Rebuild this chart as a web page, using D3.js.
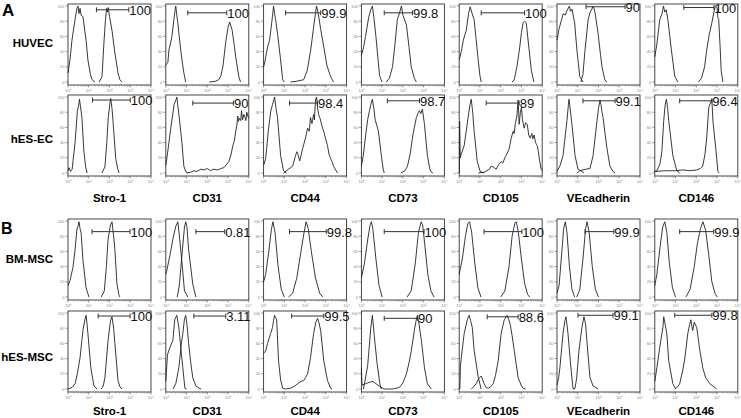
<!DOCTYPE html>
<html><head><meta charset="utf-8">
<script src="https://cdn.jsdelivr.net/npm/d3@7"></script>
<style>html,body{margin:0;padding:0;background:#fff;overflow:hidden;}svg{display:block;}</style>
</head><body>
<script>
// ---------- data ----------
const markers = ["Stro-1","CD31","CD44","CD73","CD105","VEcadherin","CD146"];
const cellTypes = ["HUVEC","hES-EC","BM-MSC","hES-MSC"];
const panelLetters = ["A","B"];
const xTickLabels = ["10\u2070","10\u00b9","10\u00b2","10\u00b3","10\u2074"];
const yTickValues = [0,20,40,60,80,100];

const gatePct = [
  ["100","100","99.9","99.8","100","90","100"],
  ["100","90","98.4","98.7","89","99.1","96.4"],
  ["100","0.81","99.8","100","100","99.9","99.9"],
  ["100","3.11","99.5","90","88.6","99.1","99.8"]
];
const gateFrom = [
  [1.37,1.06,1.06,1.10,1.06,1.40,1.40],
  [1.18,1.30,1.25,1.25,1.30,1.25,1.20],
  [1.16,1.45,1.25,1.10,1.20,1.35,1.20],
  [1.45,1.35,1.35,1.10,1.35,1.01,0.96]
];
const gateTo = [
  [2.93,2.94,2.75,2.46,3.15,3.28,2.85],
  [3.00,3.26,2.60,2.80,2.89,2.80,2.75],
  [2.99,2.84,3.02,3.02,3.02,2.74,2.84],
  [2.99,2.89,2.90,2.70,2.84,2.70,2.75]
];
const gateLevel = [
  [95,91,91,91,91,99,98],
  [96,92,92,95,92,95,95],
  [86,86,86,86,86,86,86],
  [96,96,96,93,95,97,97]
];

// curves: [log10 fluorescence (decades), % of max]
const isoHUVEC = [
  [[0,12],[0.1,30],[0.19,55],[0.34,82],[0.43,97],[0.48,100],[0.53,90],[0.58,97],[0.63,88],[0.72,86],[0.87,55],[0.96,29],[1.08,10],[1.16,3],[1.3,0]],
  [[0,22],[0.1,26],[0.15,42],[0.29,59],[0.39,82],[0.45,95],[0.48,100],[0.53,88],[0.58,78],[0.63,64],[0.72,42],[0.8,25],[0.87,12],[0.96,0]],
  [[0,20],[0.05,25],[0.19,46],[0.29,55],[0.39,78],[0.45,92],[0.48,100],[0.53,90],[0.58,82],[0.67,64],[0.82,29],[0.92,3],[1.0,0]],
  [[0,35],[0.1,45],[0.2,60],[0.35,85],[0.45,95],[0.53,100],[0.6,85],[0.7,60],[0.8,30],[0.88,8],[0.95,3],[1.0,0]],
  [[0,29],[0.1,40],[0.2,55],[0.34,68],[0.45,90],[0.53,99],[0.6,92],[0.72,82],[0.8,60],[0.9,33],[1.0,8],[1.06,0]],
  [[0,55],[0.1,70],[0.2,80],[0.3,90],[0.4,88],[0.5,95],[0.6,100],[0.65,93],[0.72,96],[0.85,78],[0.96,42],[1.1,7],[1.25,0]],
  [[0,33],[0.1,50],[0.24,82],[0.35,90],[0.42,100],[0.48,92],[0.55,95],[0.63,82],[0.8,42],[0.96,8],[1.1,0]]
];
const stainHUVEC = [
  [[1.5,0],[1.64,7],[1.73,51],[1.8,80],[1.86,97],[1.9,92],[1.94,98],[2.0,86],[2.12,68],[2.26,38],[2.41,12],[2.5,3],[2.6,0]],
  [[2.1,0],[2.4,1],[2.55,3],[2.65,8],[2.75,20],[2.9,55],[3.0,72],[3.08,79],[3.2,68],[3.3,48],[3.37,33],[3.52,7],[3.6,0]],
  [[1.3,0],[1.6,1],[1.93,3],[2.1,15],[2.27,42],[2.4,70],[2.5,90],[2.55,100],[2.62,92],[2.75,70],[2.9,46],[3.05,22],[3.23,7],[3.37,0]],
  [[1.2,0],[1.35,5],[1.5,20],[1.62,50],[1.73,82],[1.85,92],[1.93,100],[2.0,88],[2.17,75],[2.3,45],[2.4,20],[2.55,5],[2.65,0]],
  [[2.55,0],[2.65,3],[2.78,20],[2.9,42],[3.0,65],[3.08,78],[3.15,80],[3.23,78],[3.3,60],[3.37,42],[3.48,15],[3.6,0]],
  [[1.15,0],[1.25,10],[1.35,42],[1.5,82],[1.6,92],[1.7,97],[1.75,100],[1.83,92],[1.98,64],[2.1,35],[2.17,20],[2.3,3],[2.4,0]],
  [[2.1,0],[2.25,5],[2.4,20],[2.5,42],[2.62,62],[2.75,78],[2.85,92],[2.92,100],[3.0,98],[3.04,85],[3.08,82],[3.15,45],[3.2,15],[3.28,0]]
];
const isoHESEC = [
  [[0,3],[0.05,7],[0.12,2],[0.2,5],[0.34,40],[0.45,81],[0.52,90],[0.55,97],[0.6,88],[0.67,73],[0.77,27],[0.85,8],[0.92,0]],
  [[0,10],[0.05,19],[0.15,40],[0.24,59],[0.4,90],[0.5,97],[0.53,100],[0.63,77],[0.77,42],[0.87,9],[0.96,2],[1.06,0]],
  [[0,10],[0.1,19],[0.24,59],[0.35,82],[0.43,90],[0.5,97],[0.53,100],[0.6,85],[0.67,73],[0.82,23],[0.96,3],[1.1,0]],
  [[0,9],[0.1,25],[0.19,46],[0.3,70],[0.39,82],[0.47,92],[0.53,97],[0.6,85],[0.67,69],[0.75,62],[0.82,55],[0.96,23],[1.05,5],[1.1,0]],
  [[0.01,0],[0.02,68],[0.05,20],[0.1,25],[0.24,36],[0.43,73],[0.52,90],[0.58,97],[0.65,80],[0.72,55],[0.87,15],[1.01,2],[1.2,0]],
  [[0,2],[0.15,10],[0.29,23],[0.4,50],[0.48,69],[0.55,90],[0.58,97],[0.62,88],[0.72,64],[0.87,23],[1.01,5],[1.2,2],[1.3,0]],
  [[0,2],[0.1,3],[0.25,12],[0.34,28],[0.43,69],[0.5,90],[0.56,97],[0.62,85],[0.67,69],[0.87,23],[1.06,3],[1.2,0]]
];
const stainHESEC = [
  [[1.63,0],[1.78,8],[1.87,40],[1.94,73],[2.02,92],[2.06,98],[2.12,85],[2.17,68],[2.3,19],[2.4,5],[2.46,0]],
  [[1.0,0],[1.2,1],[1.35,3],[1.5,2],[1.69,5],[1.85,4],[2.0,6],[2.15,3],[2.3,5],[2.5,4],[2.65,6],[2.8,7],[2.95,12],[3.04,15],[3.15,25],[3.23,36],[3.3,42],[3.37,55],[3.42,62],[3.47,75],[3.5,68],[3.55,72],[3.61,69],[3.65,82],[3.7,70],[3.76,77],[3.82,73],[3.86,69],[3.9,80],[3.95,75],[4.0,72]],
  [[0.96,0],[1.2,5],[1.4,9],[1.54,23],[1.6,28],[1.64,26],[1.74,16],[1.82,25],[1.88,32],[2.02,46],[2.12,59],[2.2,55],[2.26,73],[2.33,65],[2.36,69],[2.41,77],[2.45,70],[2.5,96],[2.55,100],[2.6,86],[2.65,77],[2.72,72],[2.84,59],[2.9,55],[2.94,50],[3.08,36],[3.15,25],[3.23,19],[3.3,15],[3.37,9],[3.56,0]],
  [[1.9,0],[2.1,3],[2.22,9],[2.35,25],[2.46,46],[2.55,60],[2.65,73],[2.75,80],[2.8,82],[2.86,78],[2.94,84],[3.04,64],[3.18,23],[3.3,5],[3.37,1],[3.45,0]],
  [[0.92,0],[1.2,1],[1.45,5],[1.55,9],[1.64,8],[1.78,5],[1.9,11],[2.02,15],[2.1,13],[2.2,20],[2.26,23],[2.35,28],[2.41,32],[2.5,45],[2.6,55],[2.65,52],[2.7,64],[2.78,75],[2.84,96],[2.89,64],[2.95,80],[3.0,86],[3.05,70],[3.13,59],[3.2,66],[3.28,64],[3.35,50],[3.42,46],[3.5,52],[3.55,45],[3.61,50],[3.68,40],[3.76,36],[3.82,28],[3.86,19],[3.95,5],[4.0,3]],
  [[0.96,0],[1.1,3],[1.25,4],[1.4,5],[1.59,6],[1.74,23],[1.85,50],[1.93,69],[2.0,85],[2.07,96],[2.12,90],[2.17,80],[2.22,73],[2.3,55],[2.41,32],[2.55,9],[2.7,2],[2.8,0]],
  [[0,2],[0.5,3],[1.0,3],[1.35,4],[1.7,3],[2.02,4],[2.2,6],[2.31,9],[2.42,25],[2.5,46],[2.6,86],[2.68,92],[2.75,97],[2.8,69],[2.87,50],[2.94,32],[3.04,2],[3.1,0]]
];
const isoBMMSC = [
  [[0,15],[0.1,22],[0.24,39],[0.34,62],[0.43,89],[0.48,93],[0.53,99],[0.58,90],[0.63,85],[0.72,49],[0.87,12],[1.01,0]],
  [[0,30],[0.05,35],[0.2,55],[0.34,76],[0.48,93],[0.58,99],[0.67,76],[0.8,39],[0.9,8],[1.06,0]],
  [[0,20],[0.1,30],[0.25,60],[0.38,90],[0.45,99],[0.55,85],[0.7,40],[0.85,10],[1.0,0]],
  [[0,25],[0.15,45],[0.3,75],[0.42,95],[0.48,99],[0.55,90],[0.7,50],[0.85,15],[1.0,0]],
  [[0,30],[0.15,50],[0.3,80],[0.42,97],[0.5,99],[0.6,85],[0.75,45],[0.9,12],[1.05,0]],
  [[0,5],[0.1,15],[0.22,55],[0.32,90],[0.4,99],[0.48,85],[0.6,40],[0.72,10],[0.85,0]],
  [[0,15],[0.1,30],[0.25,65],[0.38,92],[0.48,99],[0.58,85],[0.7,45],[0.85,12],[1.0,0]]
];
const stainBMMSC = [
  [[1.6,0],[1.75,8],[1.85,40],[1.93,76],[2.05,95],[2.12,99],[2.2,80],[2.26,62],[2.36,17],[2.45,3],[2.5,0]],
  [[0.55,0],[0.65,15],[0.8,62],[0.9,92],[0.96,99],[1.02,92],[1.1,62],[1.3,17],[1.45,0]],
  [[1.2,0],[1.4,5],[1.6,25],[1.8,60],[1.95,85],[2.05,99],[2.15,90],[2.3,60],[2.5,25],[2.7,5],[2.85,0]],
  [[2.2,0],[2.4,8],[2.6,45],[2.75,85],[2.88,99],[2.95,95],[3.05,70],[3.2,30],[3.35,8],[3.5,0]],
  [[2.0,0],[2.2,8],[2.4,40],[2.55,80],[2.68,97],[2.75,99],[2.85,85],[3.0,50],[3.15,18],[3.3,3],[3.4,0]],
  [[0.95,0],[1.1,10],[1.25,50],[1.38,90],[1.45,99],[1.55,85],[1.7,40],[1.85,10],[2.0,0]],
  [[1.5,0],[1.7,10],[1.9,40],[2.05,70],[2.2,90],[2.32,99],[2.45,88],[2.6,55],[2.75,20],[2.9,5],[3.0,0]]
];
const isoHESMSC = [
  [[0,0],[0.2,2],[0.34,7],[0.45,20],[0.58,41],[0.72,77],[0.82,92],[0.87,97],[0.92,85],[0.96,73],[1.1,28],[1.25,4],[1.4,0]],
  [[0,10],[0.08,45],[0.15,51],[0.25,58],[0.34,64],[0.43,91],[0.53,97],[0.63,81],[0.72,55],[0.82,28],[0.92,1],[1.0,0]],
  [[0,47],[0.1,50],[0.19,60],[0.34,73],[0.43,81],[0.48,90],[0.53,97],[0.58,94],[0.63,91],[0.72,37],[0.82,12],[0.92,1],[1.06,0]],
  [[0.1,0],[0.3,30],[0.45,80],[0.53,97],[0.62,70],[0.75,35],[0.9,5],[0.96,0]],
  [[0.03,0],[0.06,30],[0.1,41],[0.24,73],[0.39,91],[0.48,97],[0.55,90],[0.63,81],[0.72,51],[0.92,15],[1.06,0]],
  [[0,5],[0.08,15],[0.14,28],[0.29,73],[0.38,90],[0.43,95],[0.48,85],[0.53,73],[0.67,28],[0.77,1],[0.85,0]],
  [[0,10],[0.1,28],[0.24,55],[0.39,81],[0.43,95],[0.5,85],[0.58,73],[0.67,37],[0.87,7],[1.01,0]]
];
const stainHESMSC = [
  [[1.6,0],[1.7,4],[1.78,15],[1.93,64],[2.05,90],[2.12,95],[2.2,80],[2.26,60],[2.41,11],[2.5,3],[2.6,0]],
  [[0.35,0],[0.48,7],[0.63,28],[0.75,60],[0.82,73],[0.9,92],[0.96,97],[1.02,85],[1.1,60],[1.2,35],[1.3,15],[1.45,4],[1.6,1],[1.7,0]],
  [[1.06,0],[1.3,1],[1.5,4],[1.64,7],[1.8,10],[1.93,11],[2.02,15],[2.12,20],[2.26,41],[2.41,73],[2.52,88],[2.6,93],[2.66,88],[2.75,77],[2.9,37],[3.08,11],[3.23,1],[3.3,0]],
  [[0,28],[0.03,5],[0.2,7],[0.4,9],[0.55,10],[0.7,7],[0.9,3],[1.1,0],[1.5,0],[1.83,2],[2.0,8],[2.17,20],[2.3,35],[2.41,51],[2.55,77],[2.65,92],[2.7,97],[2.78,85],[2.89,64],[3.04,28],[3.18,7],[3.37,0]],
  [[0.58,0],[0.7,3],[0.82,7],[0.95,14],[1.06,17],[1.2,7],[1.3,2],[1.4,1],[1.52,3],[1.64,7],[1.75,18],[1.88,37],[2.02,73],[2.17,91],[2.31,97],[2.38,92],[2.46,85],[2.55,70],[2.65,51],[2.84,15],[3.0,4],[3.08,1],[3.2,0]],
  [[0.8,0],[0.87,1],[0.95,15],[1.06,51],[1.2,81],[1.3,95],[1.38,85],[1.45,60],[1.59,15],[1.74,4],[1.98,0]],
  [[0.96,0],[1.1,3],[1.2,7],[1.35,25],[1.45,41],[1.59,73],[1.68,85],[1.74,91],[1.8,80],[1.83,77],[1.9,88],[2.02,81],[2.1,65],[2.17,51],[2.31,28],[2.45,15],[2.55,11],[2.65,7],[2.8,4],[2.98,0]]
];

const isoRows = [isoHUVEC, isoHESEC, isoBMMSC, isoHESMSC];
const stainRows = [stainHUVEC, stainHESEC, stainBMMSC, stainHESMSC];

// ---------- layout ----------
const W = 741, H = 418;
const FONT = "'Liberation Sans', Arial, Helvetica, sans-serif";
const panelW = 83, panelH = 81;
const colX = d3.range(7).map(i => 68 + i * 97.8);
const rowY = [4, 95, 219, 311];
const rowLabelBase = [47, 143, 263, 361];
const colLabelBase = {1: 202, 3: 415};

const svg = d3.select("body").append("svg").attr("width", W).attr("height", H)
  .style("font-family", FONT);

// panel letters
svg.append("text").attr("x", 2).attr("y", 16).attr("font-size", 17).attr("font-weight", "bold").text(panelLetters[0]);
svg.append("text").attr("x", 1).attr("y", 234).attr("font-size", 16).attr("font-weight", "bold").text(panelLetters[1]);

cellTypes.forEach((ct, r) => {
  const T = rowY[r];
  svg.append("text").attr("x", 53).attr("y", rowLabelBase[r]).attr("text-anchor", "end")
    .attr("font-size", 11.5).attr("font-weight", "bold").text(ct);

  markers.forEach((mk, c) => {
    const x0 = colX[c];
    const xs = d3.scaleLinear().domain([0, 4]).range([x0, x0 + panelW]);
    const ys = d3.scaleLinear().domain([0, 100]).range([T + 78, T + 2]);
    const g = svg.append("g");

    // frame
    g.append("rect").attr("x", x0).attr("y", T).attr("width", panelW).attr("height", panelH)
      .attr("fill", "none").attr("stroke", "#333").attr("stroke-width", 0.9);

    // y axis ticks
    yTickValues.forEach(v => {
      g.append("line").attr("x1", x0 - 2.5).attr("x2", x0).attr("y1", ys(v)).attr("y2", ys(v))
        .attr("stroke", "#555").attr("stroke-width", 0.6);
      g.append("text").attr("x", x0 - 3.5).attr("y", ys(v) + 1.5).attr("text-anchor", "end")
        .attr("font-size", 4).attr("fill", "#888").text(v);
    });
    // x axis ticks (log decades with minor ticks)
    const bottom = T + panelH;
    d3.range(5).forEach(d => {
      g.append("line").attr("x1", xs(d)).attr("x2", xs(d)).attr("y1", bottom).attr("y2", bottom + 2.5)
        .attr("stroke", "#555").attr("stroke-width", 0.6);
      g.append("text").attr("x", xs(d)).attr("y", bottom + 6.5).attr("text-anchor", "middle")
        .attr("font-size", 4.2).attr("fill", "#888").text(xTickLabels[d]);
      if (d < 4) {
        d3.range(2, 10).forEach(k => {
          const xv = xs(d + Math.log10(k));
          g.append("line").attr("x1", xv).attr("x2", xv).attr("y1", bottom).attr("y2", bottom + 1.5)
            .attr("stroke", "#777").attr("stroke-width", 0.5);
        });
      }
    });

    // histograms
    const lineP = d3.line().x(p => xs(p[0])).y(p => ys(p[1]));
    g.append("path").attr("d", lineP(isoRows[r][c])).attr("fill", "none")
      .attr("stroke", "#222").attr("stroke-width", 0.9).attr("stroke-linejoin", "round");
    g.append("path").attr("d", lineP(stainRows[r][c])).attr("fill", "none")
      .attr("stroke", "#222").attr("stroke-width", 0.9).attr("stroke-linejoin", "round");

    // gate marker
    const gy = ys(gateLevel[r][c]);
    const ga = xs(gateFrom[r][c]), gb = xs(gateTo[r][c]);
    g.append("line").attr("x1", ga).attr("x2", gb).attr("y1", gy).attr("y2", gy)
      .attr("stroke", "#333").attr("stroke-width", 1);
    [ga, gb].forEach(xx => g.append("line").attr("x1", xx).attr("x2", xx)
      .attr("y1", gy - 2.5).attr("y2", gy + 2.5).attr("stroke", "#333").attr("stroke-width", 1));
    g.append("text").attr("x", gb + 0.5).attr("y", gy + 5).attr("font-size", 13)
      .attr("fill", "#111").text(gatePct[r][c]);

    // column labels under rows 2 and 4
    if (colLabelBase[r] !== undefined) {
      svg.append("text").attr("x", x0 + panelW / 2).attr("y", colLabelBase[r])
        .attr("text-anchor", "middle").attr("font-size", 11.5).attr("font-weight", "bold").text(mk);
    }
  });
});
</script>
</body></html>
